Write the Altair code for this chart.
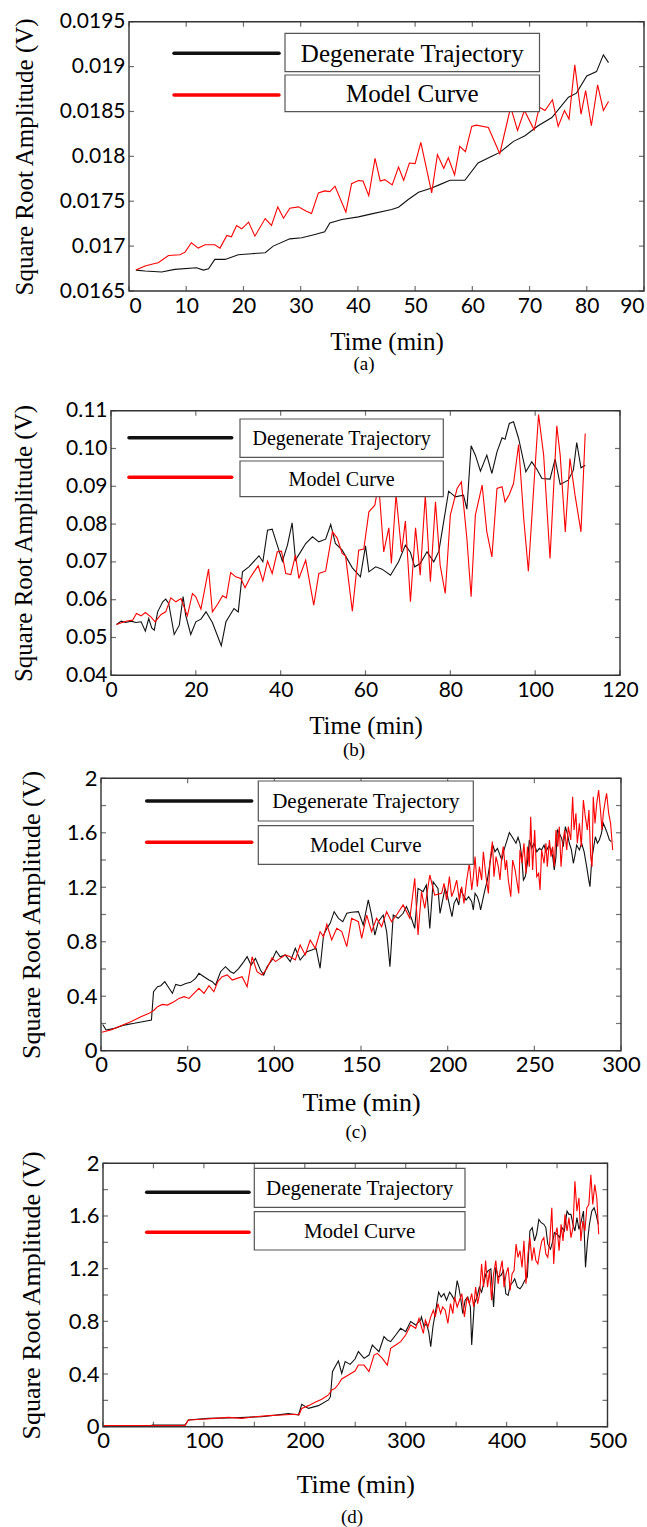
import altair as alt
import pandas as pd

# ---------------- data ----------------
# Panel (a)
A_T_BLACK = [1.2, 2.8, 5.7, 8.0, 11.8, 13.0, 13.9, 15.0, 16.8, 19.1, 21.4, 23.8, 25.2, 28.1, 30.2, 32.5, 34.2, 35.1, 37.2, 40.1,
             42.4, 45.9, 47.1, 48.8, 50.6, 52.9, 54.3, 56.1, 58.7, 61.0, 63.4, 64.8, 67.2, 69.2, 71.5, 73.9, 76.8, 78.2, 80.0, 81.7,
             82.9, 83.8]
A_V_BLACK = [0.016733, 0.016722, 0.016711, 0.016741, 0.016759, 0.016733, 0.016748, 0.016852, 0.016852, 0.016904,
             0.016915, 0.016926, 0.017000, 0.017081, 0.017093, 0.017130, 0.017159, 0.017259, 0.017296, 0.017326,
             0.017359, 0.017407, 0.017433, 0.017519, 0.017600, 0.017648, 0.017685, 0.017733, 0.017733, 0.017926,
             0.018000, 0.018044, 0.018167, 0.018230, 0.018341, 0.018433, 0.018659, 0.018704, 0.018896, 0.018944,
             0.019130, 0.019044]
A_T_RED = [1.2, 2.8, 4.5, 5.1, 6.9, 8.9, 9.8, 10.9, 12.1, 13.3, 15.0, 15.9, 17.1, 17.9, 18.8, 19.7, 20.9, 22.0, 23.8, 24.9,
           26.0, 27.0, 28.1, 29.6, 31.0, 31.9, 33.1, 34.2, 35.1, 36.0, 37.9, 38.9, 40.1, 40.9, 41.9, 43.0, 43.9, 44.7, 46.0, 47.1,
           48.0, 49.0, 50.0, 51.0, 52.9, 53.9, 55.0, 55.8, 56.9, 57.8, 58.8, 59.9, 60.7, 62.8, 64.8, 66.7, 67.9, 69.1, 70.8, 71.7,
           72.7, 74.0, 75.0, 76.1, 76.9, 77.9, 79.0, 79.8, 80.8, 81.9, 82.9, 83.8]
A_V_RED = [0.016733, 0.016778, 0.016807, 0.016815, 0.016896, 0.016904, 0.016933, 0.017037, 0.016978, 0.017015,
           0.017015, 0.016978, 0.017119, 0.017104, 0.017230, 0.017193, 0.017267, 0.017111, 0.017307, 0.017230,
           0.017437, 0.017311, 0.017422, 0.017437, 0.017389, 0.017363, 0.017593, 0.017615, 0.017607, 0.017667,
           0.017378, 0.017696, 0.017730, 0.017726, 0.017563, 0.017978, 0.017726, 0.017741, 0.017681, 0.017881,
           0.017733, 0.017926, 0.017919, 0.018156, 0.017593, 0.018019, 0.017867, 0.017985, 0.017793, 0.018111,
           0.018052, 0.018333, 0.018348, 0.018322, 0.018030, 0.018548, 0.018289, 0.018511, 0.018296, 0.018548,
           0.018511, 0.018630, 0.018333, 0.018511, 0.018415, 0.019019, 0.018470, 0.018733, 0.018341, 0.018796,
           0.018511, 0.018611]

# Panel (b)
B_T_BLACK = [1.3, 2.4, 3.5, 4.7, 5.9, 7.1, 8.1, 8.9, 9.6, 10.2, 11.0, 12.2, 12.9, 13.6, 14.9, 16.1, 17.0, 17.6, 18.8, 20.0,
             21.2, 22.4, 23.9, 26.0, 27.1, 29.0, 30.0, 31.0, 32.5, 34.9, 35.8, 36.9, 38.0, 39.2, 40.4, 41.6, 42.7, 43.5, 44.7, 45.9,
             47.5, 49.0, 50.6, 51.8, 52.9, 54.5, 56.9, 58.8, 60.0, 60.8, 62.4, 63.9, 65.9, 67.8, 69.4, 70.6, 71.6, 72.9, 74.5, 76.1,
             77.3, 79.6, 81.2, 83.1, 83.9, 84.9, 85.9, 87.1, 88.6, 89.8, 91.0, 92.2, 92.9, 93.9, 94.9, 96.1, 97.8, 99.2, 100.4, 101.6,
             103.5, 104.7, 105.9, 107.8, 109.0, 109.8, 110.8, 111.8]
B_V_BLACK = [0.05344, 0.05432, 0.05397, 0.05432, 0.05397, 0.05415, 0.05168, 0.05503, 0.05256, 0.05194,
             0.05679, 0.05944, 0.06014, 0.05900, 0.05080, 0.05326, 0.06085, 0.05591, 0.05080, 0.05415,
             0.05485, 0.05679, 0.05397, 0.04780, 0.05415, 0.05767, 0.05679, 0.06737, 0.06870, 0.07161,
             0.07002, 0.07840, 0.07866, 0.07443, 0.07020, 0.07443, 0.08034, 0.07046, 0.07266, 0.07487,
             0.07663, 0.07531, 0.07601, 0.07990, 0.07487, 0.07310, 0.06843, 0.06605, 0.07425, 0.06737,
             0.06870, 0.06808, 0.06649, 0.07002, 0.07443, 0.07249, 0.06870, 0.06958, 0.07266, 0.07002,
             0.07284, 0.08871, 0.08721, 0.08765, 0.08395, 0.10071, 0.09824, 0.09400, 0.09824, 0.09339,
             0.09912, 0.10282, 0.10247, 0.10661, 0.10705, 0.10265, 0.09383, 0.09647, 0.09453, 0.09206,
             0.09189, 0.09718, 0.09048, 0.09162, 0.09427, 0.10159, 0.09489, 0.09559]
B_T_RED = [1.3, 3.5, 5.1, 6.0, 7.1, 8.1, 9.4, 10.4, 11.8, 12.9, 14.1, 15.3, 16.5, 18.0, 19.2, 20.0, 21.2, 23.0, 23.9, 25.1,
           26.3, 27.2, 28.2, 29.4, 30.6, 31.6, 32.7, 33.7, 34.7, 35.8, 36.9, 38.0, 39.2, 40.2, 41.2, 42.4, 43.5, 44.3, 45.9, 47.8,
           49.0, 50.6, 52.2, 53.3, 54.5, 55.3, 56.9, 58.4, 59.6, 60.8, 62.2, 63.1, 64.3, 65.5, 66.1, 67.2, 68.5, 69.4, 70.6, 71.8,
           72.9, 74.1, 75.3, 76.5, 77.6, 78.8, 80.0, 81.6, 82.6, 83.9, 84.9, 85.9, 87.5, 88.6, 89.8, 91.0, 92.2, 92.9, 93.9, 94.9,
           96.1, 97.3, 98.4, 99.6, 100.8, 102.0, 103.5, 105.1, 105.9, 107.1, 108.2, 109.4, 110.8, 111.8]
B_V_RED = [0.05344, 0.05432, 0.05459, 0.05635, 0.05573, 0.05662, 0.05547, 0.05415, 0.05609, 0.05679,
           0.06050, 0.05944, 0.06032, 0.05573, 0.06164, 0.06076, 0.05750, 0.06808, 0.05679, 0.05873,
           0.06102, 0.06050, 0.06720, 0.06605, 0.06561, 0.06314, 0.06561, 0.06737, 0.06896, 0.06499,
           0.07020, 0.06693, 0.07266, 0.07284, 0.06693, 0.06667, 0.07178, 0.06561, 0.07046, 0.05855,
           0.06693, 0.06755, 0.07795, 0.07637, 0.07222, 0.07161, 0.05697, 0.07310, 0.07337, 0.08325,
           0.08501, 0.09074, 0.07266, 0.07901, 0.06958, 0.08783, 0.07266, 0.08078, 0.05944, 0.07901,
           0.06649, 0.08765, 0.06473, 0.08589, 0.06914, 0.06164, 0.08236, 0.08942, 0.09118, 0.07619,
           0.06076, 0.08236, 0.09030, 0.07795, 0.07134, 0.08942, 0.08986, 0.08589, 0.08783, 0.09074,
           0.10106, 0.08148, 0.06755, 0.08854, 0.10899, 0.09824, 0.07090, 0.10600, 0.09824, 0.07795,
           0.09735, 0.08765, 0.07795, 0.10397]

# Panel (c)
C_T_BLACK = [1.0, 2.9, 7.7, 13.4, 19.2, 23.9, 29.1, 30.3, 32.6, 34.5, 36.8, 39.3, 41.2, 43.1, 46.0, 48.9, 51.7, 54.6, 56.5, 59.4,
             62.3, 64.2, 66.1, 69.0, 71.8, 74.7, 76.6, 79.5, 82.4, 84.3, 86.6, 89.1, 92.0, 93.9, 95.8, 98.7, 101.1, 103.4, 106.3, 109.2,
             112.1, 114.9, 118.8, 121.6, 124.1, 126.4, 128.4, 130.3, 132.2, 134.5, 137.0, 139.5, 141.8, 144.6, 148.5, 151.3, 154.2,
             156.1, 158.0, 160.0, 162.8, 164.8, 166.7, 168.6, 171.5, 174.3, 176.2, 179.1, 181.0, 182.9, 185.8, 187.7, 189.7, 191.6,
             194.4,
             195.6, 197.1, 198.5, 199.8, 201.4, 202.5, 203.7, 205.2, 206.4, 207.5, 209.0, 210.6, 212.1, 213.9, 214.8, 215.8, 217.1,
             218.3, 219.0, 220.2, 221.5, 222.9, 224.4, 226.0, 227.3, 228.7, 229.8, 231.2, 232.5, 234.0, 235.6, 236.9, 238.3, 239.4,
             240.6, 241.7, 242.7, 243.7, 244.8, 246.0, 247.1, 248.5, 249.8, 251.4, 252.9, 254.2, 255.6, 256.7, 258.1, 259.4, 260.6,
             261.5, 262.5, 263.3, 264.4, 265.8, 266.7, 267.9, 269.0, 270.2, 271.4, 272.5, 273.5, 274.4, 276.0, 277.3, 278.7, 280.2,
             281.4, 282.1, 283.1, 284.0, 285.2, 286.4, 287.5, 288.7, 289.8, 291.0, 292.1, 293.3, 294.4]
C_V_BLACK = [0.193, 0.152, 0.164, 0.188, 0.201, 0.213, 0.225, 0.433, 0.470, 0.477, 0.507, 0.458, 0.421, 0.487, 0.477, 0.494,
             0.502, 0.531, 0.568, 0.543, 0.519, 0.507, 0.482, 0.580, 0.617, 0.580, 0.568, 0.605, 0.654, 0.690, 0.629, 0.678,
             0.592, 0.556, 0.617, 0.666, 0.732, 0.690, 0.703, 0.654, 0.752, 0.666, 0.727, 0.739, 0.752, 0.605, 0.849, 0.898,
             0.935, 1.021, 0.972, 0.947, 1.009, 1.016, 1.021, 0.923, 1.107, 0.996, 0.849, 0.947, 0.996, 0.874, 0.617, 0.996,
             0.972, 1.009, 1.058, 0.972, 0.898, 1.192, 1.168, 1.217, 0.898, 1.241, 1.192,
             1.008, 1.106, 1.192, 1.143, 1.045, 0.984, 1.082, 1.119, 1.070, 1.180, 1.143, 1.106, 1.131, 1.094, 1.033, 1.155, 1.131,
             1.082, 1.033, 1.106, 1.180, 1.253, 1.376, 1.510, 1.461, 1.486, 1.449, 1.400, 1.474, 1.535, 1.601, 1.576, 1.547, 1.523,
             1.567, 1.523, 1.425, 1.253, 1.278, 1.376, 1.547, 1.486, 1.523, 1.461, 1.486, 1.474, 1.510, 1.461, 1.498, 1.486, 1.425,
             1.327, 1.425, 1.620, 1.596, 1.559, 1.498, 1.645, 1.596, 1.523, 1.474, 1.376, 1.437, 1.510, 1.474, 1.523, 1.461, 1.351,
             1.253, 1.204, 1.400, 1.474, 1.571, 1.523, 1.547, 1.596, 1.669, 1.633, 1.596, 1.547, 1.535]
C_T_RED = [0.4, 5.7, 11.5, 17.2, 23.0, 27.8, 30.7, 32.6, 35.4, 38.3, 42.1, 45.0, 47.9, 50.8, 53.6, 56.5, 59.4, 62.3, 65.1, 67.4,
           69.9, 72.8, 75.7, 78.5, 81.4, 84.3, 87.2, 90.0, 92.9, 95.8, 98.7, 100.6, 103.4, 106.3, 109.2, 112.1, 114.9, 117.8, 120.7,
           123.6, 126.4, 128.4, 130.3, 133.1, 136.0, 138.9, 141.8, 144.6, 148.5, 150.4, 153.3, 156.1, 159.0, 161.9, 164.8, 167.6,
           170.5, 174.3, 178.2, 181.0, 182.9, 184.9, 186.8, 189.7, 192.5,
           196.5, 197.9, 199.4, 201.0, 202.3, 203.7, 205.2, 206.7, 208.1, 209.4, 211.0, 212.5, 213.9, 214.8, 215.8, 217.1, 218.3,
           219.6, 220.6, 222.1, 223.5, 224.4, 225.8, 226.7, 227.9, 229.2, 230.2, 231.2, 232.1, 233.3, 234.0, 235.0, 236.4, 237.5,
           238.9, 239.8, 241.0, 241.7, 242.9, 244.0, 245.2, 246.0, 247.1, 247.9, 249.0, 250.2, 251.4, 252.5, 253.3, 254.2, 255.6,
           256.7, 257.5, 258.7, 259.6, 260.6, 261.5, 262.5, 263.5, 264.4, 265.4, 266.4, 267.5, 268.7, 269.6, 271.0, 272.1, 272.9,
           274.0, 274.8, 276.0, 277.1, 278.3, 279.4, 280.6, 281.5, 282.5, 283.3, 284.0, 285.0, 286.0, 287.1, 288.3, 289.0, 289.8,
           291.0, 291.7, 292.9, 294.0, 295.2]
C_V_RED = [0.135, 0.152, 0.184, 0.213, 0.250, 0.274, 0.299, 0.323, 0.340, 0.335, 0.360, 0.384, 0.397, 0.384, 0.421, 0.458,
           0.421, 0.477, 0.433, 0.507, 0.543, 0.556, 0.519, 0.531, 0.543, 0.470, 0.690, 0.580, 0.556, 0.605, 0.683, 0.654,
           0.678, 0.703, 0.690, 0.666, 0.776, 0.703, 0.813, 0.752, 0.874, 0.837, 0.928, 0.813, 0.898, 0.874, 0.764, 0.972,
           0.947, 0.825, 0.996, 0.874, 0.972, 0.911, 1.021, 0.947, 0.996, 1.070, 0.972, 1.266, 0.849, 1.168, 1.045, 1.290,
           1.143,
           1.155, 1.229, 1.106, 1.278, 1.131, 1.180, 1.253, 1.106, 1.204, 1.082, 1.253, 1.376, 1.180, 1.278, 1.425, 1.204, 1.351,
           1.253, 1.461, 1.278, 1.155, 1.388, 1.535, 1.278, 1.425, 1.351, 1.253, 1.425, 1.498, 1.327, 1.400, 1.253, 1.131, 1.400,
           1.327, 1.253, 1.155, 1.474, 1.376, 1.523, 1.302, 1.498, 1.351, 1.718, 1.327, 1.620, 1.278, 1.302, 1.180, 1.474, 1.376,
           1.523, 1.351, 1.547, 1.425, 1.498, 1.351, 1.620, 1.498, 1.645, 1.351, 1.523, 1.620, 1.474, 1.645, 1.547, 1.865, 1.620,
           1.743, 1.523, 1.669, 1.498, 1.841, 1.718, 1.620, 1.767, 1.425, 1.351, 1.865, 1.669, 1.816, 1.914, 1.743, 1.620, 1.743,
           1.841, 1.890, 1.743, 1.669, 1.474]

# Panel (d)
D_T_BLACK = [48.2, 81.3, 84.6, 104.4, 130.9, 157.3, 183.7, 193.7, 197.0, 203.6, 213.5, 223.4, 225.4, 227.4, 230.0, 233.3,
             236.6, 240.0, 244.9, 249.8, 253.1, 258.7, 263.6, 266.9, 270.2, 273.5, 278.5, 281.8, 285.1, 290.1, 295.0, 300.0,
             304.9, 309.9, 314.8,
             315.6, 318.2, 320.5, 322.8, 324.8, 327.0, 330.3, 332.6, 335.2, 337.9, 340.5, 343.5, 345.7, 348.4, 351.0, 352.6,
             354.3, 356.6, 358.9, 361.5, 364.1, 365.4, 368.0, 370.7, 373.0, 375.2, 377.2, 379.5, 381.8, 384.4, 387.1, 389.3,
             391.6, 394.3, 396.9, 399.2, 401.5, 403.5, 406.1, 408.0, 410.7, 413.3, 415.6, 417.9, 420.5, 423.1, 425.4, 427.7,
             429.7, 432.0, 434.3, 436.9, 438.9, 440.8, 443.5, 445.4, 447.4, 450.0, 452.6, 454.9, 457.2, 459.9, 461.8, 463.8,
             465.8, 467.7, 469.7, 471.7, 473.6, 476.2, 478.2, 480.2, 482.1, 484.4, 486.7, 488.7, 490.9]
D_V_BLACK = [0.013, 0.013, 0.051, 0.063, 0.068, 0.076, 0.099, 0.089, 0.170, 0.139, 0.160, 0.203, 0.228, 0.418, 0.456, 0.499,
             0.405, 0.494, 0.473, 0.514, 0.570, 0.519, 0.544, 0.620, 0.595, 0.570, 0.684, 0.658, 0.646, 0.696, 0.747, 0.722,
             0.798, 0.772, 0.810,
             0.834, 0.759, 0.784, 0.721, 0.608, 0.759, 0.909, 1.022, 0.985, 1.010, 0.960, 1.022, 0.997, 0.960, 1.110, 1.060,
             0.985, 0.859, 0.960, 0.985, 0.909, 0.621, 0.934, 0.985, 1.060, 1.022, 1.085, 1.160, 1.185, 1.198, 0.909, 1.210,
             1.135, 1.148, 1.185, 1.010, 0.997, 1.072, 1.097, 1.123, 1.060, 1.047, 1.072, 1.110, 1.135, 1.486, 1.512, 1.411,
             1.461, 1.574, 1.549, 1.537, 1.512, 1.386, 1.348, 1.399, 1.474, 1.461, 1.436, 1.512, 1.486, 1.637, 1.612, 1.612,
             1.537, 1.486, 1.587, 1.499, 1.549, 1.637, 1.210, 1.411, 1.537, 1.637, 1.662, 1.612, 1.537]
D_T_RED = [0.3, 81.3, 84.6, 97.8, 111.0, 124.3, 137.5, 150.7, 163.9, 177.1, 190.3, 194.3, 197.0, 203.6, 210.2, 216.8, 223.4,
           226.7, 230.0, 233.3, 236.6, 243.2, 249.8, 253.1, 258.7, 263.6, 268.6, 271.9, 276.8, 281.8, 285.1, 290.1, 295.0, 300.0,
           304.9, 309.9, 313.2,
           315.6, 317.5, 319.5, 322.1, 324.8, 327.4, 329.3, 332.0, 334.6, 336.6, 339.2, 341.8, 344.4, 346.7, 348.4, 351.0, 353.3,
           355.6, 358.2, 360.8, 363.1, 365.4, 367.4, 369.3, 371.3, 373.3, 375.2, 377.2, 379.2, 381.1, 383.1, 385.1, 387.1, 389.3,
           391.6, 393.6, 395.6, 397.5, 399.5, 401.5, 403.5, 405.4, 407.4, 409.4, 411.3, 413.3, 415.3, 417.2, 419.2, 421.2, 423.1,
           425.1, 427.1, 429.0, 431.0, 433.0, 434.9, 436.9, 438.9, 440.8, 442.8, 444.8, 446.7, 448.4, 450.0, 452.0, 454.0, 455.9,
           457.9, 459.9, 461.8, 463.8, 465.8, 467.7, 469.7, 471.7, 473.6, 475.6, 477.6, 479.5, 481.5, 483.5, 485.4, 487.4, 489.4,
           491.3]
D_V_RED = [0.008, 0.008, 0.051, 0.056, 0.063, 0.071, 0.063, 0.076, 0.084, 0.089, 0.094, 0.089, 0.139, 0.160, 0.185, 0.208,
           0.241, 0.279, 0.291, 0.322, 0.362, 0.392, 0.423, 0.468, 0.468, 0.418, 0.544, 0.557, 0.519, 0.468, 0.595, 0.620,
           0.646, 0.696, 0.772, 0.747, 0.823,
           0.759, 0.709, 0.809, 0.759, 0.834, 0.884, 0.834, 0.934, 0.859, 0.909, 0.884, 0.784, 0.934, 0.859, 0.985, 0.909, 0.960,
           1.010, 0.834, 0.985, 0.934, 1.010, 0.909, 1.060, 0.934, 1.010, 1.236, 1.060, 1.261, 1.060, 1.185, 0.960, 1.160, 1.261,
           1.085, 1.185, 1.261, 1.060, 1.160, 1.210, 1.035, 1.160, 1.185, 1.386, 1.286, 1.336, 1.210, 1.411, 1.085, 1.311, 1.436,
           1.261, 1.361, 1.261, 1.236, 1.336, 1.411, 1.436, 1.311, 1.286, 1.411, 1.662, 1.236, 1.461, 1.512, 1.336, 1.537, 1.411,
           1.612, 1.486, 1.587, 1.436, 1.512, 1.863, 1.637, 1.737, 1.411, 1.562, 1.486, 1.662, 1.687, 1.913, 1.687, 1.838, 1.737,
           1.461]

# tick values
A_XTICKS = [0, 10, 20, 30, 40, 50, 60, 70, 80, 90]
A_YTICKS = [0.0165, 0.017, 0.0175, 0.018, 0.0185, 0.019, 0.0195]
B_XTICKS = [0, 20, 40, 60, 80, 100, 120]
B_YTICKS = [0.04, 0.05, 0.06, 0.07, 0.08, 0.09, 0.10, 0.11]
C_XTICKS = [0, 50, 100, 150, 200, 250, 300]
CD_YLABELS = [0, 0.4, 0.8, 1.2, 1.6, 2]
CD_YTICKS = [0, 0.2, 0.4, 0.6, 0.8, 1.0, 1.2, 1.4, 1.6, 1.8, 2.0]
D_XLABELS = [0, 100, 200, 300, 400, 500]
D_XTICKS = [0, 50, 100, 150, 200, 250, 300, 350, 400, 450, 500]

SERIES = ["Degenerate Trajectory", "Model Curve"]
COLORS = ["#111111", "#ff0000"]
CAPTIONS = ["(a)", "(b)", "(c)", "(d)"]

SERIF = "Liberation Serif"
SANS = "Lato"

PANELS = [
    dict(tb=A_T_BLACK, vb=A_V_BLACK, tr=A_T_RED, vr=A_V_RED, xdom=[0, 90], ydom=[0.0165, 0.0195],
         xlab=A_XTICKS, xt=A_XTICKS, ylab=A_YTICKS, yt=A_YTICKS, yfmt="~g", flush=True,
         H=385, L=129, R=644, T=21.7, B=291, tfs=21, afs=25, ytx=24, xty=341,
         leg_lx=(174, 279), leg_ly=(53.3, 95), leg_bx=(285, 539.5), leg_by=((33.3, 71.7), (75, 111.7)),
         leg_fs=25, cap=(364, 364)),
    dict(tb=B_T_BLACK, vb=B_V_BLACK, tr=B_T_RED, vr=B_V_RED, xdom=[0, 120], ydom=[0.04, 0.11],
         xlab=B_XTICKS, xt=B_XTICKS, ylab=B_YTICKS, yt=B_YTICKS, yfmt=".2f", flush=False,
         H=375, L=111, R=620, T=25.7, B=290.3, tfs=21, afs=25, ytx=23.5, xty=340,
         leg_lx=(129, 231.7), leg_ly=(52.7, 92.3), leg_bx=(240, 443.3), leg_by=((34, 72.3), (76, 111.7)),
         leg_fs=20, cap=(354, 365)),
    dict(tb=C_T_BLACK, vb=C_V_BLACK, tr=C_T_RED, vr=C_V_RED, xdom=[0, 300], ydom=[0, 2],
         xlab=C_XTICKS, xt=C_XTICKS, ylab=CD_YLABELS, yt=CD_YTICKS, yfmt="~g", flush=False,
         H=385, L=101, R=621, T=18.3, B=290.7, tfs=22, afs=26, ytx=31, xty=342,
         leg_lx=(146.7, 251.7), leg_ly=(41, 82.3), leg_bx=(258.3, 473.3), leg_by=((21, 61), (65.7, 104.3)),
         leg_fs=21, cap=(356, 372)),
    dict(tb=D_T_BLACK, vb=D_V_BLACK, tr=D_T_RED, vr=D_V_RED, xdom=[0, 500], ydom=[0, 2],
         xlab=D_XLABELS, xt=D_XTICKS, ylab=CD_YLABELS, yt=CD_YTICKS, yfmt="~g", flush=False,
         H=382, L=103, R=607.5, T=18.3, B=281.7, tfs=22, afs=26, ytx=31, xty=339,
         leg_lx=(146.7, 249), leg_ly=(47.3, 87.3), leg_bx=(254.3, 465), leg_by=((23.3, 62.3), (66.7, 105)),
         leg_fs=21, cap=(352, 372)),
]

ONE = pd.DataFrame({"k": [0]})
FRAME = "#333333"


def dfp(t, v):
    return pd.DataFrame({"t": t, "v": v})


def build(p, caption):
    L, R, T, B, H = p["L"], p["R"], p["T"], p["B"], p["H"]
    x0, x1 = p["xdom"]
    y0, y1 = p["ydom"]
    xax = alt.Axis(values=p["xlab"], format="d", ticks=False, tickSize=0, domain=False, grid=False,
                   labelFont=SANS, labelFontSize=p["tfs"], labelColor="black", labelPadding=4,
                   labelFlush=p["flush"], labelOverlap=False, offset=-(H - B),
                   title="Time (min)", titleFont=SERIF, titleFontSize=p["afs"], titleFontWeight="normal",
                   titleColor="black", titleY=p["xty"] - B, titleBaseline="middle")
    yax = alt.Axis(values=p["ylab"], format=p["yfmt"], ticks=False, tickSize=0, domain=False, grid=False,
                   labelFont=SANS, labelFontSize=p["tfs"], labelColor="black", labelPadding=4,
                   labelFlush=False, labelOverlap=False, offset=-L,
                   title="Square Root Amplitude (V)", titleFont=SERIF, titleFontSize=p["afs"],
                   titleFontWeight="normal", titleColor="black", titleX=p["ytx"] - L, titleBaseline="middle")
    X = alt.X("t:Q", scale=alt.Scale(domain=p["xdom"], range=[L, R], nice=False, zero=False), axis=xax)
    Y = alt.Y("v:Q", scale=alt.Scale(domain=p["ydom"], range=[B, T], nice=False, zero=False), axis=yax)

    layers = []
    # inward ticks on all four sides
    yt, xt = p["yt"], p["xt"]
    layers.append(alt.Chart(dfp([x0] * len(yt), yt)).mark_tick(orient="horizontal", size=5, thickness=1.2,
                                                                 xOffset=2.5, color=FRAME).encode(x=X, y=Y))
    layers.append(alt.Chart(dfp([x1] * len(yt), yt)).mark_tick(orient="horizontal", size=5, thickness=1.2,
                                                                 xOffset=-2.5, color=FRAME).encode(x=X, y=Y))
    layers.append(alt.Chart(dfp(xt, [y0] * len(xt))).mark_tick(orient="vertical", size=5, thickness=1.2,
                                                                 yOffset=-2.5, color=FRAME).encode(x=X, y=Y))
    layers.append(alt.Chart(dfp(xt, [y1] * len(xt))).mark_tick(orient="vertical", size=5, thickness=1.2,
                                                                 yOffset=2.5, color=FRAME).encode(x=X, y=Y))
    # data lines
    layers.append(alt.Chart(dfp(p["tb"], p["vb"])).mark_line(color=COLORS[0], strokeWidth=1.1).encode(x=X, y=Y))
    layers.append(alt.Chart(dfp(p["tr"], p["vr"])).mark_line(color=COLORS[1], strokeWidth=1.1).encode(x=X, y=Y))
    # legend: line samples + boxed labels
    for i in range(2):
        by1, by2 = p["leg_by"][i]
        layers.append(alt.Chart(ONE).mark_rect(fill="white", stroke="#555555", strokeWidth=1.2).encode(
            x=alt.value(p["leg_bx"][0]), x2=alt.value(p["leg_bx"][1]), y=alt.value(by1), y2=alt.value(by2)))
        layers.append(alt.Chart(ONE).mark_text(font=SERIF, fontSize=p["leg_fs"], color="black", align="center",
                                               baseline="middle").encode(
            x=alt.value((p["leg_bx"][0] + p["leg_bx"][1]) / 2), y=alt.value((by1 + by2) / 2 + 1),
            text=alt.value(SERIES[i])))
        layers.append(alt.Chart(ONE).mark_rule(color=COLORS[i], strokeWidth=3.5, strokeCap="round").encode(
            x=alt.value(p["leg_lx"][0]), x2=alt.value(p["leg_lx"][1]), y=alt.value(p["leg_ly"][i])))
    # frame
    fr = pd.DataFrame({"t": [x0], "t2": [x1], "v": [y0], "v2": [y1]})
    layers.append(alt.Chart(fr).mark_rect(fill="white", fillOpacity=0, stroke=FRAME, strokeWidth=1.4).encode(
        x=X, x2="t2:Q", y=Y, y2="v2:Q"))
    # caption
    layers.append(alt.Chart(ONE).mark_text(font=SERIF, fontSize=19, color="black", align="center",
                                           baseline="middle").encode(
        x=alt.value(p["cap"][0]), y=alt.value(p["cap"][1]), text=alt.value(caption)))
    return alt.layer(*layers).properties(width=647, height=H)


panels = [build(p, c) for p, c in zip(PANELS, CAPTIONS)]
chart = alt.vconcat(*panels, spacing=0, bounds="flush").properties(
    padding=0, background="white"
).configure_view(stroke=None)

chart.save("out.html", embed_options={"renderer": "svg", "actions": False})
